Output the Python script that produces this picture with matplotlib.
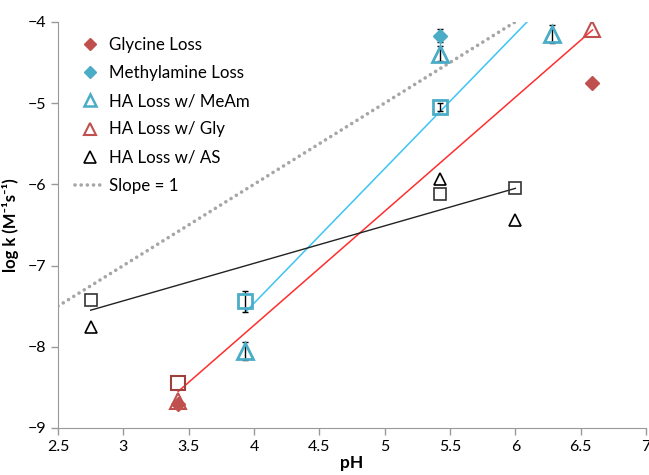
import matplotlib.pyplot as plt
from matplotlib.lines import Line2D

plt.rcParams['font.family'] = ['Lato', 'DejaVu Sans']

# rate constants (log k) vs pH
gly_loss_ph = [3.42, 6.59]
gly_loss_logk = [-8.71, -4.75]

meam_loss_ph = [5.42]
meam_loss_logk = [-4.17]
meam_loss_err = [0.08]

ha_meam_ph = [3.93, 5.42, 6.28]
ha_meam_logk = [-8.05, -4.39, -4.15]
ha_meam_err = [0.11, 0.09, 0.11]

ha_meam_sq_ph = [3.93, 5.42]
ha_meam_sq_logk = [-7.44, -5.05]
ha_meam_sq_err = [0.13, 0.05]

ha_gly_ph = [3.42, 6.59]
ha_gly_logk = [-8.67, -4.09]

ha_gly_sq_ph = [3.42]
ha_gly_sq_logk = [-8.45]

ha_as_ph = [2.75, 5.42, 6.0]
ha_as_logk = [-7.76, -5.93, -6.44]

ha_as_sq_ph = [2.75, 5.42, 6.0]
ha_as_sq_logk = [-7.43, -6.12, -6.05]

# linear fits
meam_fit_ph = [3.93, 6.09]
meam_fit_logk = [-7.58, -4.0]
gly_fit_ph = [3.42, 6.59]
gly_fit_logk = [-8.55, -4.1]
as_fit_ph = [2.75, 6.0]
as_fit_logk = [-7.55, -6.05]
slope1_ph = [2.5, 6.05]
slope1_logk = [-7.5, -3.95]

red = '#C0504D'
blue = '#4BACC6'
dot_gray = '#A6A6A6'
dot_style = (0, (0.01, 1.7))

fig = plt.figure(figsize=(6.49, 4.75), dpi=100)
ax = fig.add_axes([0.0894, 0.099, 0.906, 0.855])

ax.plot(slope1_ph, slope1_logk, color=dot_gray, lw=2.6,
        linestyle=dot_style, dash_capstyle='round')
ax.plot(meam_fit_ph, meam_fit_logk, color='#3DC4F2', lw=1.1)
ax.plot(gly_fit_ph, gly_fit_logk, color='#FF2E2E', lw=1.1)
ax.plot(as_fit_ph, as_fit_logk, color='#222222', lw=1.0)

ax.errorbar(meam_loss_ph, meam_loss_logk, yerr=meam_loss_err, fmt='none',
            ecolor='black', elinewidth=1, capsize=2.5)
ax.errorbar(ha_meam_ph, ha_meam_logk, yerr=ha_meam_err, fmt='none',
            ecolor='black', elinewidth=1, capsize=2.5)
ax.errorbar(ha_meam_sq_ph, ha_meam_sq_logk, yerr=ha_meam_sq_err, fmt='none',
            ecolor='black', elinewidth=1, capsize=2.5)

ax.plot(ha_gly_ph, ha_gly_logk, '^', mfc='none', mec=red, mew=1.5, ms=11)
ax.plot(gly_loss_ph, gly_loss_logk, 'D', color=red, ms=7)
ax.plot(meam_loss_ph, meam_loss_logk, 'D', color=blue, ms=7)
ax.plot(ha_meam_ph, ha_meam_logk, '^', mfc='none', mec=blue, mew=2, ms=11)
ax.plot(ha_meam_sq_ph, ha_meam_sq_logk, 's', mfc='none', mec=blue, mew=2, ms=10.5)
ax.plot(ha_gly_sq_ph, ha_gly_sq_logk, 's', mfc='none', mec='#A0403D', mew=1.5,
        ms=10)
ax.plot(ha_as_ph, ha_as_logk, '^', mfc='none', mec='black', mew=1.2, ms=9)
ax.plot(ha_as_sq_ph, ha_as_sq_logk, 's', mfc='none', mec='#333333', mew=1.2,
        ms=9)

ax.set_xlim(2.5, 7)
ax.set_ylim(-9, -4)
ax.set_xticks([2.5, 3, 3.5, 4, 4.5, 5, 5.5, 6, 6.5, 7])
ax.set_xticklabels(['2.5', '3', '3.5', '4', '4.5', '5', '5.5', '6', '6.5', '7'])
ax.set_yticks([-9, -8, -7, -6, -5, -4])
ax.tick_params(axis='both', colors='#999999', labelcolor='black',
               labelsize=11.5, length=5, width=1)
for side in ['top', 'right']:
    ax.spines[side].set_visible(False)
for side in ['left', 'bottom']:
    ax.spines[side].set_color('#999999')

ax.set_xlabel('pH', fontsize=12.5, fontweight='bold', labelpad=1)
ax.set_ylabel('log k (M⁻¹s⁻¹)', fontsize=12, fontweight='bold', labelpad=6)

# legend with smaller proxy markers
legend_handles = [
    Line2D([], [], ls='none', marker='D', color=red, ms=6.5),
    Line2D([], [], ls='none', marker='D', color=blue, ms=6.5),
    Line2D([], [], ls='none', marker='^', mfc='none', mec=blue, mew=1.8, ms=9),
    Line2D([], [], ls='none', marker='^', mfc='none', mec=red, mew=1.5, ms=9),
    Line2D([], [], ls='none', marker='^', mfc='none', mec='black', mew=1.2, ms=9),
    Line2D([], [], color=dot_gray, lw=2.6, ls=dot_style, dash_capstyle='round'),
]
legend_labels = ['Glycine Loss', 'Methylamine Loss', 'HA Loss w/ MeAm',
                 'HA Loss w/ Gly', 'HA Loss w/ AS', 'Slope = 1']
ax.legend(legend_handles, legend_labels, loc='upper left', frameon=False,
          fontsize=12.2, bbox_to_anchor=(0.012, 0.988), handlelength=1.7,
          handletextpad=0.3, labelspacing=0.72, borderaxespad=0.2)

fig.savefig('out.png', dpi=100)
